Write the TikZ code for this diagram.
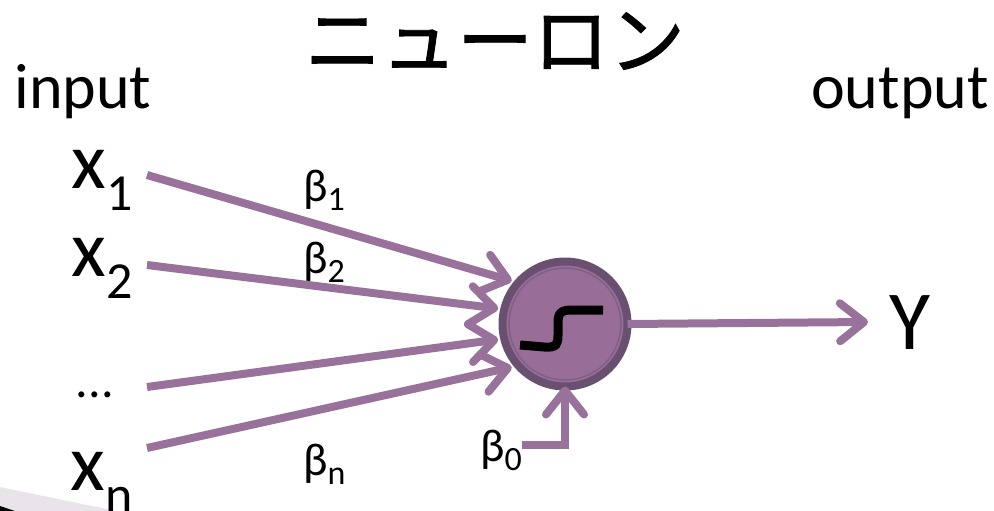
\documentclass[tikz,border=0pt]{standalone}
\usepackage{fontspec}
\setmainfont{Carlito}
\newfontfamily\cjkfont[FakeBold=1.2]{Noto Sans CJK JP}
\usetikzlibrary{arrows.meta, positioning}
\definecolor{purpleLine}{RGB}{152,114,155}
\definecolor{purpleFill}{RGB}{152,110,153}
\definecolor{purpleDark}{RGB}{106,80,112}
\definecolor{purpleRing}{RGB}{128,96,134}
\definecolor{greyWedge}{RGB}{232,228,234}
\newcommand{\fsz}[1]{\fontsize{#1}{#1}\selectfont}
\newcommand{\xsub}[1]{\fsz{80}x\raisebox{-22pt}{\fsz{52}#1}}
\newcommand{\bsub}[2]{\fsz{46}#1\raisebox{-9pt}{\fsz{34}#2}}

\begin{document}
\begin{tikzpicture}[
    x=1pt, y=-1pt,
    xin/.style={anchor=east, inner xsep=14pt, inner ysep=0pt, text height=#1, text depth=0pt},
    word/.style={inner sep=0pt, anchor=base, font=\fsz{64}},
    coef/.style={inner sep=0pt, anchor=base west},
    link/.style={draw=purpleLine, line width=8pt, -{Straight Barb[length=24pt, width=38pt, line width=8pt, round]}},
    >=Latex
]
\useasboundingbox (0,0) rectangle (994,511);
\fill[greyWedge] (0,487) -- (116,511) -- (0,511) -- cycle;
\fill[black] (0,506) -- (15,511) -- (0,511) -- cycle;

\node[inner sep=0pt] (title) at (495,41) {\cjkfont\fsz{76}ニューロン};
\node[word] (input) at (83,108) {input};
\node[word] (output) at (900,108) {output};

\node[xin=26pt] (x1) at (147,175) {\xsub{1}};
\node[xin=22pt] (x2) at (147,265) {\xsub{2}};
\node[xin=20pt, inner xsep=33pt, font=\fsz{50}] (dots) at (147,387) {...};
\node[xin=84pt] (xn) at (147,448) {\xsub{n}};

\node[circle, minimum size=125pt, inner sep=0pt, draw=purpleDark, line width=8pt, fill=purpleFill, outer sep=6pt] (neuron) at (565,324) {};
\node[circle, minimum size=112pt, inner sep=0pt, draw=purpleRing, line width=1.5pt] (core) at (neuron) {};
\node[inner sep=0pt, anchor=west] (Y) at (889,323) {\fsz{84}Y};

\node[coef] (b1) at (303,201) {\bsub{β}{1}};
\node[coef] (b2) at (303,273) {\bsub{β}{2}};
\node[coef] (bn) at (303,475) {\bsub{β}{n}};
\node[coef] (b0) at (480,461) {\bsub{β}{0}};

% inputs
\draw[link] (x1.east) -- (neuron.141);
\draw[link] (x2.east) -- (neuron.167);
\draw[link] (dots.east) -- (neuron.193);
\draw[link] (xn.east) -- (neuron.219);
% output
\draw[link] (neuron.east) ++(-6pt,0) -- (868,322);
% bias
\draw[link] (b0.east |- 565,445) -- (565,445) -- ([yshift=6pt]neuron.south);
% step function
\draw[black, line width=9pt] (520,345) -- (544,347) .. controls (557,348) and (558,344) .. (558,335) -- (558,323) .. controls (558,313) and (561,310) .. (572,310) -- (603,310);
\end{tikzpicture}
\end{document}
